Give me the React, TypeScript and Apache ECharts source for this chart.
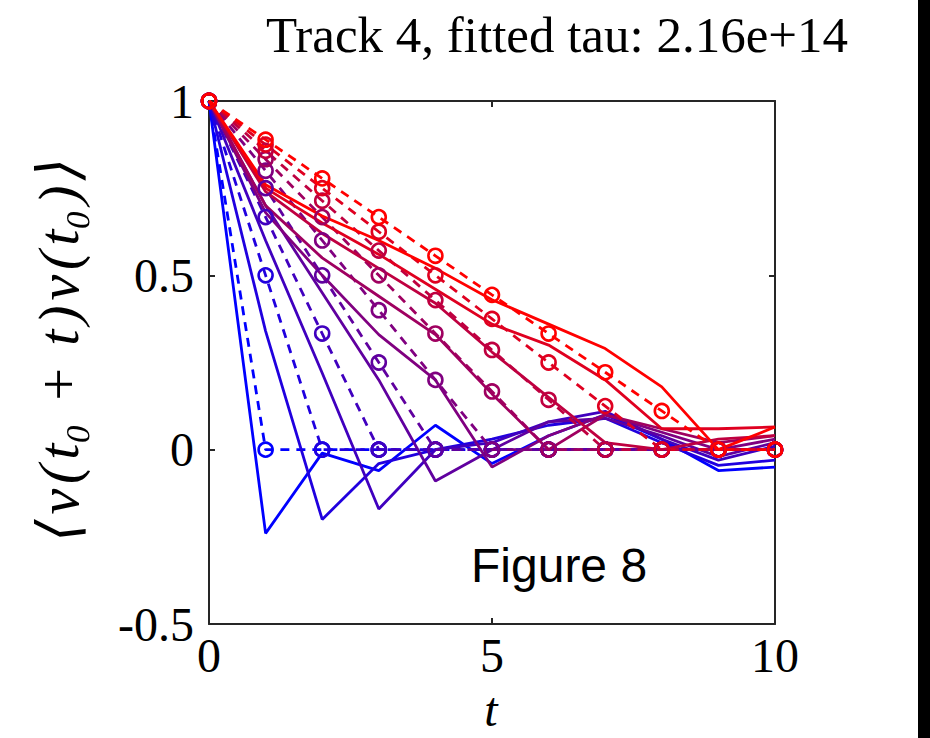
import React, { useEffect, useRef } from "react";
import * as echarts from "echarts";

// lag values t
const lags = [0, 1, 2, 3, 4, 5, 6, 7, 8, 9, 10];
const xTicks = [0, 5, 10];
const yTicks = [-0.5, 0, 0.5, 1];

// dashed series with circle markers (one per track, blue -> red)
const fit1 = [1, 0, 0, 0, 0, 0, 0, 0, 0, 0, 0];
const fit2 = [1, 0.5, 0, 0, 0, 0, 0, 0, 0, 0, 0];
const fit3 = [1, 0.667, 0.333, 0, 0, 0, 0, 0, 0, 0, 0];
const fit4 = [1, 0.75, 0.5, 0.25, 0, 0, 0, 0, 0, 0, 0];
const fit5 = [1, 0.8, 0.6, 0.4, 0.2, 0, 0, 0, 0, 0, 0];
const fit6 = [1, 0.833, 0.667, 0.5, 0.333, 0.167, 0, 0, 0, 0, 0];
const fit7 = [1, 0.857, 0.714, 0.571, 0.429, 0.286, 0.143, 0, 0, 0, 0];
const fit8 = [1, 0.875, 0.75, 0.625, 0.5, 0.375, 0.25, 0.125, 0, 0, 0];
const fit9 = [1, 0.889, 0.778, 0.667, 0.556, 0.444, 0.333, 0.222, 0.111, 0, 0];

// solid series (measured autocorrelation)
const acf1 = [1, -0.24, -0.01, -0.06, 0.07, -0.04, 0.04, 0.1, 0.03, -0.06, -0.05];
const acf2 = [1, 0.34, -0.2, -0.04, 0.0, 0.03, 0.07, 0.09, 0.02, -0.045, -0.03];
const acf3 = [1, 0.6, 0.22, -0.17, 0.0, 0.02, 0.08, 0.11, 0.03, -0.03, 0.01];
const acf4 = [1, 0.7, 0.45, 0.2, -0.09, 0.0, 0.08, 0.09, 0.04, -0.02, 0.02];
const acf5 = [1, 0.68, 0.5, 0.33, 0.2, -0.05, 0.04, 0.1, 0.05, 0.0, 0.03];
const acf6 = [1, 0.7, 0.55, 0.44, 0.33, 0.16, 0.0, 0.1, 0.06, 0.02, 0.04];
const acf7 = [1, 0.74, 0.62, 0.52, 0.42, 0.28, 0.15, 0.02, 0.0, 0.03, 0.04];
const acf8 = [1, 0.75, 0.65, 0.56, 0.46, 0.36, 0.3, 0.2, 0.06, 0.06, 0.065];
const acf9 = [1, 0.76, 0.67, 0.6, 0.52, 0.43, 0.36, 0.29, 0.18, 0.0, 0.065];

const fits = [fit1, fit2, fit3, fit4, fit5, fit6, fit7, fit8, fit9];
const acfs = [acf1, acf2, acf3, acf4, acf5, acf6, acf7, acf8, acf9];

const trackColors = [
  "rgb(0,0,255)",
  "rgb(32,0,223)",
  "rgb(64,0,191)",
  "rgb(96,0,159)",
  "rgb(128,0,128)",
  "rgb(159,0,96)",
  "rgb(191,0,64)",
  "rgb(223,0,32)",
  "rgb(255,0,0)",
];

const HS = "\u200A";
const titleText = "Track 4, fitted tau: 2.16e+14";
const yLabelText = ["⟨", "v", "(", "t₀", " + ", "t", ")", "v", "(", "t₀", ")", "⟩"].join(HS);
const xLabelText = "t";
const noteText = "Figure 8";

const SERIF = "'Liberation Serif', 'DejaVu Serif', serif";
const AXIS_COLOR = "#262626";

export default function App() {
  const ref = useRef<HTMLDivElement>(null);

  useEffect(() => {
    if (!ref.current) return;
    const chart = echarts.init(ref.current, undefined, { renderer: "svg" });

    const series: any[] = [];
    for (let i = 0; i < fits.length; i++) {
      const c = trackColors[i];
      series.push({
        type: "line",
        xAxisIndex: 0,
        yAxisIndex: 0,
        data: lags.map((t, j) => [t, acfs[i][j]]),
        symbol: "none",
        clip: false,
        lineStyle: { color: c, width: 2.8 },
        emphasis: { disabled: true },
      });
      series.push({
        type: "line",
        xAxisIndex: 0,
        yAxisIndex: 0,
        data: lags.map((t, j) => [t, fits[i][j]]),
        symbol: "circle",
        symbolSize: 14,
        showAllSymbol: true,
        clip: false,
        itemStyle: { color: "rgba(0,0,0,0)", borderColor: c, borderWidth: 2.6 },
        lineStyle: { color: c, width: 2.8, type: [9, 7] },
        emphasis: { disabled: true },
      });
    }

    const axisLine = { show: true, onZero: false, lineStyle: { color: AXIS_COLOR, width: 2 } };
    const axisTick = { show: true, inside: true, length: 6, lineStyle: { color: AXIS_COLOR, width: 2 } };

    chart.setOption({
      animation: false,
      backgroundColor: "#ffffff",
      grid: { left: 209, top: 101, right: 155, bottom: 114, containLabel: false },
      xAxis: [
        {
          type: "value",
          position: "bottom",
          min: xTicks[0],
          max: xTicks[xTicks.length - 1],
          interval: 5,
          axisLine,
          axisTick,
          splitLine: { show: false },
          axisLabel: { fontFamily: SERIF, fontSize: 48, color: "#000", margin: 7 },
        },
        {
          type: "value",
          position: "top",
          min: xTicks[0],
          max: xTicks[xTicks.length - 1],
          interval: 5,
          axisLine,
          axisTick,
          splitLine: { show: false },
          axisLabel: { show: false },
        },
      ],
      yAxis: [
        {
          type: "value",
          position: "left",
          min: yTicks[0],
          max: yTicks[yTicks.length - 1],
          interval: 0.5,
          axisLine,
          axisTick,
          splitLine: { show: false },
          axisLabel: { fontFamily: SERIF, fontSize: 48, color: "#000", margin: 15 },
        },
        {
          type: "value",
          position: "right",
          min: yTicks[0],
          max: yTicks[yTicks.length - 1],
          interval: 0.5,
          axisLine,
          axisTick,
          splitLine: { show: false },
          axisLabel: { show: false },
        },
      ],
      series,
      graphic: [
        { type: "rect", shape: { x: 918, y: 0, width: 12, height: 738 }, style: { fill: "#000" } },
        {
          type: "text",
          x: 557,
          y: 35,
          style: {
            text: titleText,
            fontFamily: SERIF,
            fontSize: 51,
            fill: "#000",
            textAlign: "center",
            align: "center",
            textVerticalAlign: "middle",
            verticalAlign: "middle",
          },
        },
        {
          type: "text",
          x: 58,
          y: 350,
          rotation: Math.PI / 2,
          style: {
            text: yLabelText,
            fontFamily: SERIF,
            fontStyle: "italic",
            fontSize: 58,
            fill: "#000",
            textAlign: "center",
            align: "center",
            textVerticalAlign: "middle",
            verticalAlign: "middle",
          },
        },
        {
          type: "text",
          x: 491,
          y: 709,
          style: {
            text: xLabelText,
            fontFamily: SERIF,
            fontStyle: "italic",
            fontSize: 48,
            fill: "#000",
            textAlign: "center",
            align: "center",
            textVerticalAlign: "middle",
            verticalAlign: "middle",
          },
        },
        {
          type: "text",
          x: 471,
          y: 565,
          style: {
            text: noteText,
            fontFamily: "'Liberation Sans', Arial, sans-serif",
            fontSize: 48,
            fill: "#000",
            textAlign: "left",
            align: "left",
            textVerticalAlign: "middle",
            verticalAlign: "middle",
          },
        },
      ],
    });

    return () => chart.dispose();
  }, []);

  return (
    <div
      ref={ref}
      style={{ position: "fixed", left: 0, top: 0, width: 930, height: 738, background: "#fff" }}
    />
  );
}
